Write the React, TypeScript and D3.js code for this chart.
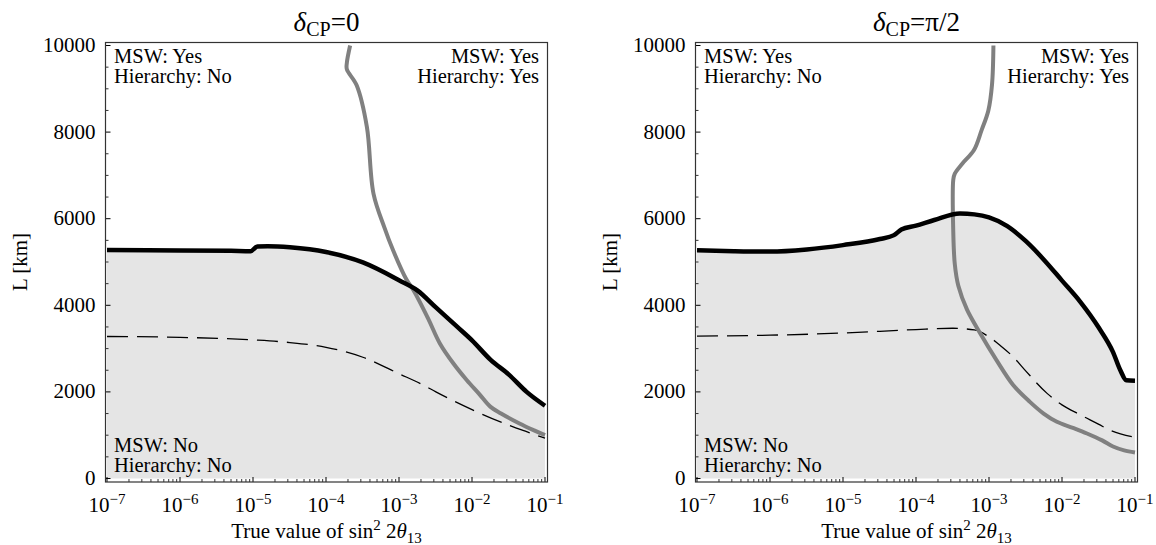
import React from 'react';
import * as d3 from 'd3';

// ---- delta_CP = 0 ----
const leftBlackX = [1e-7, 1e-6, 5e-6, 9.3e-6, 1.15e-5, 1.6e-5, 3.2e-5, 1e-4, 3.2e-4, 1e-3, 1.8e-3, 3.2e-3, 6.3e-3, 1e-2, 1.8e-2, 3.2e-2, 5.6e-2, 0.1];
const leftBlackL = [5280, 5268, 5258, 5250, 5360, 5365, 5340, 5230, 4990, 4580, 4340, 3950, 3500, 3190, 2740, 2400, 2000, 1680];

const leftDashX = [1e-7, 1e-6, 1e-5, 3.2e-5, 1e-4, 3.2e-4, 1e-3, 2.14e-3, 3.2e-3, 1e-2, 3.2e-2, 5.6e-2, 0.1];
const leftDashL = [3280, 3260, 3200, 3140, 3030, 2800, 2420, 2160, 2000, 1590, 1230, 1080, 930];

const leftGrayX = [2.14e-4, 1.93e-4, 1.93e-4, 2.63e-4, 3.63e-4, 4.47e-4, 6.3e-4, 8.3e-4, 1.26e-3, 1.58e-3, 2.5e-3, 3.63e-3, 5.6e-3, 8.5e-3, 1.26e-2, 1.78e-2, 2.5e-2, 4.47e-2, 7.1e-2, 0.1];
const leftGrayL = [10000, 9600, 9450, 9080, 8120, 6580, 5800, 5270, 4600, 4350, 3700, 3120, 2650, 2270, 1950, 1660, 1500, 1270, 1110, 1000];

// ---- delta_CP = pi/2 ----
const rightBlackX = [1e-7, 3.2e-7, 1e-6, 3.2e-6, 1e-5, 3.2e-5, 5e-5, 6.3e-5, 1e-4, 1.78e-4, 4e-4, 6.3e-4, 1e-3, 1.78e-3, 3.2e-3, 5.6e-3, 1e-2, 1.78e-2, 3.2e-2, 5e-2, 6.3e-2, 7.6e-2, 0.1];
const rightBlackL = [5270, 5250, 5240, 5290, 5390, 5530, 5620, 5750, 5840, 5970, 6120, 6100, 6030, 5830, 5480, 5060, 4570, 4080, 3480, 2920, 2500, 2270, 2260];

const rightDashX = [1e-7, 1e-6, 1e-5, 3.2e-5, 1e-4, 3.2e-4, 6.3e-4, 1e-3, 1.41e-3, 2.14e-3, 3.2e-3, 6.3e-3, 1e-2, 1.78e-2, 3.2e-2, 4.47e-2, 0.1];
const rightDashL = [3290, 3310, 3360, 3400, 3440, 3470, 3430, 3270, 3080, 2810, 2480, 1960, 1700, 1470, 1250, 1120, 950];

const rightGrayX = [1.15e-3, 1.1e-3, 9.8e-4, 7.9e-4, 6.2e-4, 4.3e-4, 3.4e-4, 3.24e-4, 3.24e-4, 3.4e-4, 3.8e-4, 5e-4, 7.6e-4, 1.26e-3, 2.14e-3, 3.63e-3, 5.6e-3, 8.5e-3, 1.41e-2, 2.2e-2, 3.55e-2, 5e-2, 7.1e-2, 0.1];
const rightGrayL = [10000, 9100, 8500, 8040, 7580, 7270, 7040, 6900, 5700, 4950, 4450, 3900, 3350, 2740, 2160, 1770, 1500, 1310, 1170, 1040, 880, 740, 650, 600];

const xMajor = [1e-7, 1e-6, 1e-5, 1e-4, 1e-3, 1e-2, 1e-1];
const xMajorExp = ['−7', '−6', '−5', '−4', '−3', '−2', '−1'];
const yMajor = [0, 2000, 4000, 6000, 8000, 10000];

const FONT = "'Liberation Serif', 'Times New Roman', serif";

const zip = (xs: number[], ls: number[]) => xs.map((v, i) => [v, ls[i]] as [number, number]);

interface PanelProps {
  dx: number;
  titleValue: string;
  black: [number, number][];
  dashed: [number, number][];
  gray: [number, number][];
}

const Panel = ({ dx, titleValue, black, dashed, gray }: PanelProps) => {
  const x = d3.scaleLog().domain([1e-7, 1e-1]).range([107 + dx, 545 + dx]);
  const y = d3.scaleLinear().domain([0, 10000]).range([478.5, 45.5]);

  // black & dashed are single valued in x, the gray one turns back
  const smooth = d3
    .line<[number, number]>()
    .x((d) => x(d[0]))
    .y((d) => y(d[1]))
    .curve(d3.curveMonotoneX);

  const grayLine = d3
    .line<[number, number]>()
    .x((d) => x(d[0]))
    .y((d) => y(d[1]))
    .curve(d3.curveCatmullRom.alpha(0.5));

  const area = d3
    .area<[number, number]>()
    .x((d) => x(d[0]))
    .y0(y(0))
    .y1((d) => y(d[1]))
    .curve(d3.curveMonotoneX);

  const frame = { left: 105.5 + dx, right: 547.5 + dx, top: 42.5, bottom: 482 };
  const cx = (frame.left + frame.right) / 2;

  const xMinor = x.ticks().filter((t) => !xMajor.some((m) => Math.abs(m - t) / m < 1e-6));
  const yMinor = y.ticks(20).filter((t) => t % 2000 !== 0);

  return (
    <g fontFamily={FONT}>
      <rect x={frame.left} y={frame.top} width={frame.right - frame.left} height={frame.bottom - frame.top} fill="#fff" />
      <path d={area(black) || ''} fill="#e5e5e5" />

      <path d={smooth(dashed) || ''} fill="none" stroke="#000" strokeWidth={1.3} strokeDasharray="21,9" />
      <path d={grayLine(gray) || ''} fill="none" stroke="#808080" strokeWidth={4} strokeLinejoin="round" />
      <path d={smooth(black) || ''} fill="none" stroke="#000" strokeWidth={4.5} strokeLinejoin="round" />

      {/* ticks */}
      {xMajor.map((t) => (
        <line key={'xM' + t} x1={x(t)} x2={x(t)} y1={frame.bottom} y2={frame.bottom - 5} stroke="#000" strokeWidth={1} />
      ))}
      {xMinor.map((t) => (
        <line key={'xm' + t} x1={x(t)} x2={x(t)} y1={frame.bottom} y2={frame.bottom - 3} stroke="#000" strokeWidth={0.8} />
      ))}
      {yMajor.map((t) => (
        <line key={'yM' + t} x1={frame.left} x2={frame.left + 5} y1={y(t)} y2={y(t)} stroke="#000" strokeWidth={1} />
      ))}
      {yMinor.map((t) => (
        <line key={'ym' + t} x1={frame.left} x2={frame.left + 3} y1={y(t)} y2={y(t)} stroke="#000" strokeWidth={0.8} />
      ))}

      <rect x={frame.left} y={frame.top} width={frame.right - frame.left} height={frame.bottom - frame.top} fill="none" stroke="#333" strokeWidth={1.2} />

      {/* tick labels */}
      {xMajor.map((t, i) => (
        <text key={'xl' + t} x={x(t)} y={512} textAnchor="middle" fontSize={21}>
          10<tspan dy={-8} fontSize={15}>{xMajorExp[i]}</tspan>
        </text>
      ))}
      {yMajor.map((t) => (
        <text key={'yl' + t} x={frame.left - 10} y={y(t) + 6.5} textAnchor="end" fontSize={21}>
          {t}
        </text>
      ))}

      {/* region labels */}
      <text x={frame.left + 8.5} y={63} fontSize={20.5}>MSW: Yes</text>
      <text x={frame.left + 8.5} y={83} fontSize={20.5}>Hierarchy: No</text>
      <text x={frame.right - 8.5} y={63} fontSize={20.5} textAnchor="end">MSW: Yes</text>
      <text x={frame.right - 8.5} y={83} fontSize={20.5} textAnchor="end">Hierarchy: Yes</text>
      <text x={frame.left + 8.5} y={452} fontSize={20.5}>MSW: No</text>
      <text x={frame.left + 8.5} y={472} fontSize={20.5}>Hierarchy: No</text>

      {/* title */}
      <text x={cx} y={31} textAnchor="middle" fontSize={27}>
        <tspan fontStyle="italic">δ</tspan>
        <tspan dy={5} fontSize={20}>CP</tspan>
        <tspan dy={-5}>={titleValue}</tspan>
      </text>

      {/* axis labels */}
      <text x={cx} y={538} textAnchor="middle" fontSize={21}>
        True value of sin<tspan dy={-8} fontSize={15}>2</tspan>
        <tspan dy={8}> 2</tspan>
        <tspan fontStyle="italic">θ</tspan>
        <tspan dy={5} fontSize={15}>13</tspan>
      </text>
      <text transform={`translate(${27 + dx},262) rotate(-90)`} textAnchor="middle" fontSize={21}>
        L [km]
      </text>
    </g>
  );
};

const App = () => {
  return (
    <svg width={1156} height={545} style={{ position: 'absolute', left: 0, top: 0, background: '#fff' }}>
      <Panel dx={0} titleValue="0" black={zip(leftBlackX, leftBlackL)} dashed={zip(leftDashX, leftDashL)} gray={zip(leftGrayX, leftGrayL)} />
      <Panel dx={590} titleValue="π/2" black={zip(rightBlackX, rightBlackL)} dashed={zip(rightDashX, rightDashL)} gray={zip(rightGrayX, rightGrayL)} />
    </svg>
  );
};

export default App;
